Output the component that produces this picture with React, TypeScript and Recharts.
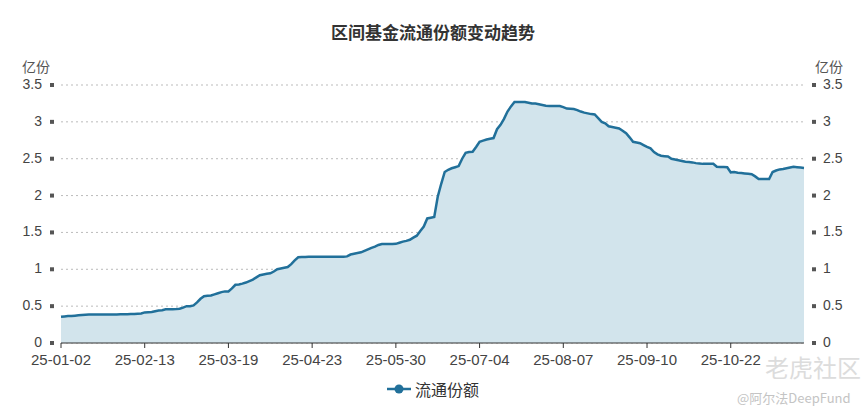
import { AreaChart, Area, XAxis, YAxis, CartesianGrid, Legend } from "recharts";

// trading days, 2025-01-02 .. 2025-11-20
const dates = [
    "25-01-02", "25-01-03", "25-01-06", "25-01-07", "25-01-08", "25-01-09", "25-01-10", "25-01-13", "25-01-14", "25-01-15",
    "25-01-16", "25-01-17", "25-01-20", "25-01-21", "25-01-22", "25-01-23", "25-01-24", "25-01-27", "25-02-05", "25-02-06",
    "25-02-07", "25-02-10", "25-02-11", "25-02-12", "25-02-13", "25-02-14", "25-02-17", "25-02-18", "25-02-19", "25-02-20",
    "25-02-21", "25-02-24", "25-02-25", "25-02-26", "25-02-27", "25-02-28", "25-03-03", "25-03-04", "25-03-05", "25-03-06",
    "25-03-07", "25-03-10", "25-03-11", "25-03-12", "25-03-13", "25-03-14", "25-03-17", "25-03-18", "25-03-19", "25-03-20",
    "25-03-21", "25-03-24", "25-03-25", "25-03-26", "25-03-27", "25-03-28", "25-03-31", "25-04-01", "25-04-02", "25-04-03",
    "25-04-07", "25-04-08", "25-04-09", "25-04-10", "25-04-11", "25-04-14", "25-04-15", "25-04-16", "25-04-17", "25-04-18",
    "25-04-21", "25-04-22", "25-04-23", "25-04-24", "25-04-25", "25-04-28", "25-04-29", "25-04-30", "25-05-06", "25-05-07",
    "25-05-08", "25-05-09", "25-05-12", "25-05-13", "25-05-14", "25-05-15", "25-05-16", "25-05-19", "25-05-20", "25-05-21",
    "25-05-22", "25-05-23", "25-05-26", "25-05-27", "25-05-28", "25-05-29", "25-05-30", "25-06-03", "25-06-04", "25-06-05",
    "25-06-06", "25-06-09", "25-06-10", "25-06-11", "25-06-12", "25-06-13", "25-06-16", "25-06-17", "25-06-18", "25-06-19",
    "25-06-20", "25-06-23", "25-06-24", "25-06-25", "25-06-26", "25-06-27", "25-06-30", "25-07-01", "25-07-02", "25-07-03",
    "25-07-04", "25-07-07", "25-07-08", "25-07-09", "25-07-10", "25-07-11", "25-07-14", "25-07-15", "25-07-16", "25-07-17",
    "25-07-18", "25-07-21", "25-07-22", "25-07-23", "25-07-24", "25-07-25", "25-07-28", "25-07-29", "25-07-30", "25-07-31",
    "25-08-01", "25-08-04", "25-08-05", "25-08-06", "25-08-07", "25-08-08", "25-08-11", "25-08-12", "25-08-13", "25-08-14",
    "25-08-15", "25-08-18", "25-08-19", "25-08-20", "25-08-21", "25-08-22", "25-08-25", "25-08-26", "25-08-27", "25-08-28",
    "25-08-29", "25-09-01", "25-09-02", "25-09-03", "25-09-04", "25-09-05", "25-09-08", "25-09-09", "25-09-10", "25-09-11",
    "25-09-12", "25-09-15", "25-09-16", "25-09-17", "25-09-18", "25-09-19", "25-09-22", "25-09-23", "25-09-24", "25-09-25",
    "25-09-26", "25-09-29", "25-09-30", "25-10-09", "25-10-10", "25-10-13", "25-10-14", "25-10-15", "25-10-16", "25-10-17",
    "25-10-20", "25-10-21", "25-10-22", "25-10-23", "25-10-24", "25-10-27", "25-10-28", "25-10-29", "25-10-30", "25-10-31",
    "25-11-03", "25-11-04", "25-11-05", "25-11-06", "25-11-07", "25-11-10", "25-11-11", "25-11-12", "25-11-13", "25-11-14",
    "25-11-17", "25-11-18", "25-11-19", "25-11-20",
];

// 流通份额, 亿份
const shares = [
    0.355, 0.36, 0.365, 0.365, 0.37, 0.375, 0.38, 0.384, 0.385, 0.385,
    0.385, 0.385, 0.386, 0.386, 0.387, 0.387, 0.388, 0.39, 0.39, 0.39,
    0.392, 0.395, 0.398, 0.4, 0.415, 0.418, 0.42, 0.43, 0.44, 0.445,
    0.457, 0.457, 0.457, 0.46, 0.465, 0.48, 0.5, 0.5, 0.51, 0.55,
    0.6, 0.635, 0.64, 0.645, 0.66, 0.675, 0.69, 0.7, 0.7, 0.74,
    0.79, 0.795, 0.805, 0.82, 0.84, 0.86, 0.89, 0.92, 0.93, 0.94,
    0.945, 0.97, 1.0, 1.01, 1.02, 1.03, 1.07, 1.12, 1.163, 1.165,
    1.168, 1.17, 1.17, 1.17, 1.17, 1.17, 1.17, 1.17, 1.17, 1.17,
    1.17, 1.17, 1.175, 1.2, 1.21, 1.22, 1.23, 1.25, 1.27, 1.29,
    1.307, 1.33, 1.343, 1.343, 1.343, 1.343, 1.345, 1.36, 1.375, 1.385,
    1.4, 1.43, 1.456, 1.52, 1.58, 1.69, 1.7, 1.71, 1.985, 2.16,
    2.32, 2.35, 2.37, 2.385, 2.4, 2.5, 2.58, 2.59, 2.595, 2.66,
    2.73, 2.745, 2.76, 2.77, 2.78, 2.9, 2.96, 3.04, 3.14, 3.21,
    3.27, 3.27, 3.27, 3.27, 3.26, 3.25, 3.25, 3.24, 3.23, 3.22,
    3.215, 3.215, 3.215, 3.215, 3.2, 3.18, 3.178, 3.175, 3.16, 3.14,
    3.125, 3.115, 3.105, 3.1, 3.05, 3.0, 2.98, 2.94, 2.93, 2.92,
    2.91, 2.88, 2.845, 2.79, 2.73, 2.72, 2.71, 2.685, 2.66, 2.64,
    2.59, 2.56, 2.54, 2.535, 2.53, 2.5, 2.49, 2.48, 2.47, 2.46,
    2.455, 2.45, 2.44, 2.435, 2.43, 2.43, 2.43, 2.43, 2.39, 2.388,
    2.386, 2.385, 2.315, 2.32, 2.31, 2.305, 2.3, 2.295, 2.29, 2.26,
    2.225, 2.225, 2.225, 2.225, 2.32, 2.34, 2.355, 2.36, 2.37, 2.38,
    2.39, 2.385, 2.38, 2.375,
];

const yTicks = [0, 0.5, 1, 1.5, 2, 2.5, 3, 3.5];

const data = dates.map((date, i) => ({ date, shares: shares[i] }));

const LINE = "#21709a";
const AREA = "#d2e4ec";
const NUM_FONT = '"Liberation Sans", Arial, sans-serif';
const CJK_FONT = '"Noto Sans CJK SC", "Noto Sans", sans-serif';

// y tick: number plus the small square marker next to the plot
function YTick(props: any) {
    const { x, y, payload, side } = props;
    const left = side === "left";
    return (
        <g>
            <rect x={left ? x + 8 : x - 11} y={y - 2} width={4} height={4} fill="#555" />
            <text
                x={x}
                y={y}
                dy={4}
                textAnchor={left ? "end" : "start"}
                fontSize={14}
                fill="#444"
                fontFamily={NUM_FONT}
            >
                {payload.value}
            </text>
        </g>
    );
}

const renderLegend = () => (
    <div style={{ display: "flex", justifyContent: "center", alignItems: "center", height: 20 }}>
        <svg width={24} height={12}>
            <line x1={0} y1={6} x2={24} y2={6} stroke={LINE} strokeWidth={2.5} />
            <circle cx={12} cy={6} r={4.5} fill={LINE} />
        </svg>
        <span style={{ marginLeft: 4, fontSize: 16, color: "#333", fontFamily: CJK_FONT, lineHeight: "20px" }}>
            流通份额
        </span>
    </div>
);

export default function App() {
    return (
        <div style={{ position: "absolute", left: 0, top: 0, width: 866, height: 417, background: "#fff" }}>
            <div
                style={{
                    position: "absolute", left: 0, top: 20, width: 866, textAlign: "center",
                    fontSize: 17, fontWeight: 700, color: "#333", fontFamily: CJK_FONT, lineHeight: "24px",
                }}
            >
                区间基金流通份额变动趋势
            </div>
            <div style={{ position: "absolute", left: 22, top: 56, fontSize: 14, color: "#555", fontFamily: CJK_FONT, lineHeight: "20px" }}>
                亿份
            </div>
            <div style={{ position: "absolute", left: 815, top: 56, fontSize: 14, color: "#555", fontFamily: CJK_FONT, lineHeight: "20px" }}>
                亿份
            </div>

            <AreaChart width={866} height={417} data={data} margin={{ top: 85, right: 0, bottom: 18, left: 0 }}>
                <CartesianGrid yAxisId="left" vertical={false} stroke="#bbb" strokeDasharray="2 3" />
                <XAxis
                    dataKey="date"
                    interval={23}
                    height={36}
                    tickSize={5}
                    tickMargin={6}
                    stroke="#333"
                    tick={{ fill: "#444", fontSize: 15, fontFamily: NUM_FONT }}
                />
                <YAxis
                    yAxisId="left"
                    width={61}
                    domain={[0, 3.5]}
                    ticks={yTicks}
                    axisLine={false}
                    tickLine={false}
                    tickSize={0}
                    tickMargin={19}
                    tick={(p: any) => <YTick {...p} side="left" />}
                />
                <YAxis
                    yAxisId="right"
                    orientation="right"
                    width={62}
                    domain={[0, 3.5]}
                    ticks={yTicks}
                    axisLine={false}
                    tickLine={false}
                    tickSize={0}
                    tickMargin={19}
                    tick={(p: any) => <YTick {...p} side="right" />}
                />
                <Legend verticalAlign="bottom" height={20} content={renderLegend} />
                <Area
                    yAxisId="left"
                    type="linear"
                    dataKey="shares"
                    name="流通份额"
                    stroke={LINE}
                    strokeWidth={2.5}
                    fill={AREA}
                    fillOpacity={1}
                    dot={false}
                    activeDot={false}
                    isAnimationActive={false}
                />
                {/* same series bound to the right axis so that it gets a scale; draws nothing */}
                <Area
                    yAxisId="right"
                    type="linear"
                    dataKey="shares"
                    stroke="none"
                    fill="none"
                    legendType="none"
                    dot={false}
                    activeDot={false}
                    isAnimationActive={false}
                />
            </AreaChart>

            <div style={{ position: "absolute", left: 765, top: 352, fontSize: 24, color: "#dcdcdc", fontFamily: CJK_FONT, lineHeight: "30px" }}>
                老虎社区
            </div>
            <div style={{ position: "absolute", left: 737, top: 389, fontSize: 13, color: "#c4c4c4", fontFamily: CJK_FONT, lineHeight: "18px" }}>
                @阿尔法DeepFund
            </div>
        </div>
    );
}
